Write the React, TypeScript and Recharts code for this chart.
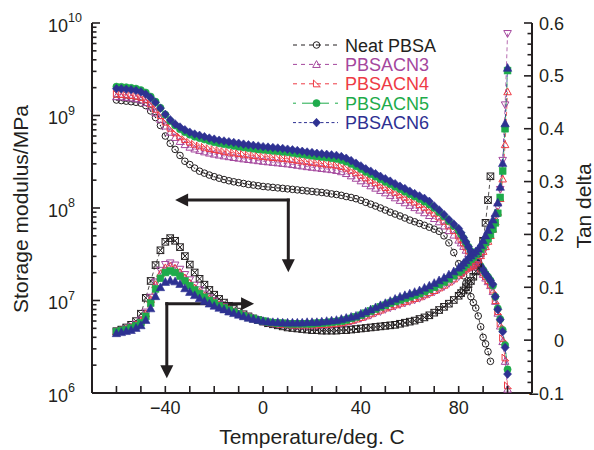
import React from "react"
import { ComposedChart, Line, XAxis, YAxis, Legend, ReferenceLine, ReferenceDot } from "recharts"

const BLACK = "#231f20"
const MAGENTA = "#a4479d"
const RED = "#ee3b45"
const GREEN = "#1eab4b"
const BLUE = "#2e3192"
const FONT = "'Liberation Sans', Arial, Helvetica, sans-serif"

// temperature, deg. C
const temps = [
  -60, -58, -56, -54, -52, -50, -48, -46, -44, -42,
  -40, -38, -36, -34, -32, -30, -28, -26, -24, -22,
  -20, -18, -16, -14, -12, -10, -8, -6, -4, -2,
  0, 2, 4, 6, 8, 10, 12, 14, 16, 18,
  20, 22, 24, 26, 28, 30, 32, 34, 36, 38,
  40, 42, 44, 46, 48, 50, 52, 54, 56, 58,
  60, 62, 64, 66, 68, 70, 72, 74, 76, 78,
  80, 81, 82, 83, 84, 85, 86, 87, 88, 89,
  90, 91, 92, 93, 94, 95, 96, 97, 98, 99,
  100,
]

// storage modulus
const neatModulus = [
  1.47e9, 1.45e9, 1.43e9, 1.41e9, 1.39e9, 1.36e9, 1.28e9, 1.12e9, 9.5e8, 7.8e8,
  6.0e8, 5.0e8, 4.3e8, 3.7e8, 3.2e8, 2.95e8, 2.7e8, 2.5e8, 2.38e8, 2.27e8,
  2.18e8, 2.1e8, 2.03e8, 1.97e8, 1.92e8, 1.88e8, 1.84e8, 1.8e8, 1.77e8, 1.74e8,
  1.71e8, 1.69e8, 1.67e8, 1.65e8, 1.63e8, 1.61e8, 1.59e8, 1.57e8, 1.55e8, 1.53e8,
  1.51e8, 1.49e8, 1.47e8, 1.45e8, 1.42e8, 1.4e8, 1.37e8, 1.33e8, 1.3e8, 1.26e8,
  1.21e8, 1.15e8, 1.1e8, 1.05e8, 1.0e8, 9.5e7, 9.0e7, 8.6e7, 8.2e7, 7.8e7,
  7.4e7, 7.1e7, 6.8e7, 6.5e7, 6.2e7, 5.9e7, 5.6e7, 5.0e7, 4.2e7, 3.3e7,
  2.5e7, 2.15e7, 1.85e7, 1.55e7, 1.3e7, 1.1e7, 9.5e6, 8.3e6, 6.8e6, 5.2e6,
  4.0e6, 3.4e6, 2.8e6, 2.2e6, null, null, null, null, null, null,
  null,
]
const cn3Modulus = [
  1.6e9, 1.59e9, 1.57e9, 1.55e9, 1.52e9, 1.47e9, 1.38e9, 1.24e9, 1.07e9, 9.1e8,
  7.7e8, 6.6e8, 5.8e8, 5.25e8, 4.85e8, 4.55e8, 4.35e8, 4.2e8, 4.05e8, 3.93e8,
  3.83e8, 3.74e8, 3.66e8, 3.59e8, 3.52e8, 3.46e8, 3.4e8, 3.35e8, 3.3e8, 3.25e8,
  3.2e8, 3.16e8, 3.12e8, 3.08e8, 3.04e8, 3.0e8, 2.95e8, 2.9e8, 2.85e8, 2.8e8,
  2.76e8, 2.72e8, 2.68e8, 2.64e8, 2.6e8, 2.55e8, 2.47e8, 2.36e8, 2.23e8, 2.1e8,
  1.97e8, 1.85e8, 1.74e8, 1.64e8, 1.55e8, 1.46e8, 1.37e8, 1.29e8, 1.21e8, 1.14e8,
  1.07e8, 1.01e8, 9.5e7, 8.9e7, 8.3e7, 7.7e7, 7.1e7, 6.4e7, 5.7e7, 5.1e7,
  4.5e7, 4.2e7, 3.85e7, 3.5e7, 3.2e7, 2.95e7, 2.7e7, 2.5e7, 2.3e7, 2.1e7,
  1.92e7, 1.75e7, 1.6e7, 1.45e7, 1.25e7, 9.8e6, 7.3e6, 5.3e6, 3.6e6, 2.2e6,
  1.1e6,
]
const cn4Modulus = [
  1.7e9, 1.69e9, 1.67e9, 1.65e9, 1.62e9, 1.57e9, 1.48e9, 1.34e9, 1.17e9, 1.0e9,
  8.5e8, 7.3e8, 6.5e8, 5.9e8, 5.5e8, 5.15e8, 4.9e8, 4.7e8, 4.55e8, 4.4e8,
  4.3e8, 4.2e8, 4.1e8, 4.02e8, 3.95e8, 3.88e8, 3.82e8, 3.76e8, 3.7e8, 3.65e8,
  3.6e8, 3.56e8, 3.52e8, 3.48e8, 3.44e8, 3.4e8, 3.34e8, 3.28e8, 3.22e8, 3.17e8,
  3.12e8, 3.07e8, 3.02e8, 2.98e8, 2.94e8, 2.9e8, 2.82e8, 2.7e8, 2.56e8, 2.41e8,
  2.26e8, 2.12e8, 2.0e8, 1.88e8, 1.77e8, 1.67e8, 1.57e8, 1.48e8, 1.39e8, 1.31e8,
  1.23e8, 1.16e8, 1.09e8, 1.02e8, 9.5e7, 8.8e7, 8.0e7, 7.2e7, 6.4e7, 5.7e7,
  5.0e7, 4.6e7, 4.2e7, 3.8e7, 3.45e7, 3.15e7, 2.9e7, 2.65e7, 2.4e7, 2.2e7,
  2.0e7, 1.82e7, 1.65e7, 1.5e7, 1.3e7, 1.0e7, 7.6e6, 5.6e6, 3.9e6, 2.4e6,
  1.2e6,
]
const cn5Modulus = [
  2.05e9, 2.04e9, 2.02e9, 1.99e9, 1.95e9, 1.88e9, 1.77e9, 1.6e9, 1.41e9, 1.21e9,
  1.02e9, 8.7e8, 7.8e8, 7.1e8, 6.6e8, 6.2e8, 5.9e8, 5.7e8, 5.5e8, 5.3e8,
  5.15e8, 5.0e8, 4.9e8, 4.8e8, 4.7e8, 4.6e8, 4.52e8, 4.45e8, 4.38e8, 4.3e8,
  4.25e8, 4.2e8, 4.15e8, 4.1e8, 4.05e8, 4.0e8, 3.93e8, 3.86e8, 3.8e8, 3.73e8,
  3.67e8, 3.61e8, 3.56e8, 3.51e8, 3.46e8, 3.4e8, 3.3e8, 3.17e8, 3.0e8, 2.82e8,
  2.64e8, 2.46e8, 2.32e8, 2.18e8, 2.05e8, 1.92e8, 1.81e8, 1.7e8, 1.6e8, 1.5e8,
  1.41e8, 1.33e8, 1.25e8, 1.17e8, 1.09e8, 1.0e8, 9.0e7, 8.1e7, 7.2e7, 6.4e7,
  5.7e7, 5.2e7, 4.7e7, 4.2e7, 3.8e7, 3.4e7, 3.1e7, 2.85e7, 2.6e7, 2.35e7,
  2.15e7, 1.95e7, 1.8e7, 1.65e7, 1.45e7, 1.1e7, 8.2e6, 6.3e6, 4.8e6, 3.3e6,
  1.8e6,
]
const cn6Modulus = [
  1.95e9, 1.94e9, 1.92e9, 1.9e9, 1.86e9, 1.8e9, 1.7e9, 1.55e9, 1.38e9, 1.2e9,
  1.03e9, 9.0e8, 8.1e8, 7.5e8, 7.0e8, 6.6e8, 6.3e8, 6.1e8, 5.9e8, 5.7e8,
  5.55e8, 5.4e8, 5.3e8, 5.2e8, 5.1e8, 5.0e8, 4.9e8, 4.82e8, 4.75e8, 4.68e8,
  4.6e8, 4.55e8, 4.5e8, 4.45e8, 4.4e8, 4.32e8, 4.25e8, 4.18e8, 4.1e8, 4.03e8,
  3.97e8, 3.9e8, 3.85e8, 3.8e8, 3.75e8, 3.7e8, 3.6e8, 3.45e8, 3.25e8, 3.05e8,
  2.85e8, 2.65e8, 2.5e8, 2.35e8, 2.2e8, 2.07e8, 1.95e8, 1.83e8, 1.72e8, 1.62e8,
  1.52e8, 1.43e8, 1.35e8, 1.27e8, 1.18e8, 1.05e8, 9.5e7, 8.5e7, 7.5e7, 6.7e7,
  6.0e7, 5.4e7, 4.8e7, 4.3e7, 3.8e7, 3.4e7, 3.1e7, 2.85e7, 2.6e7, 2.35e7,
  2.15e7, 1.95e7, 1.8e7, 1.65e7, 1.5e7, 1.1e7, 8.0e6, 6.2e6, 4.6e6, 3.1e6,
  1.6e6,
]

// tan delta
const neatTan = [
  0.017, 0.02, 0.024, 0.029, 0.036, 0.05, 0.08, 0.112, 0.142, 0.17,
  0.186, 0.193, 0.188, 0.176, 0.159, 0.143, 0.128, 0.116, 0.105, 0.095,
  0.086, 0.078, 0.071, 0.065, 0.059, 0.054, 0.049, 0.045, 0.041, 0.038,
  0.035, 0.032, 0.03, 0.028, 0.026, 0.024, 0.023, 0.022, 0.021, 0.02,
  0.019, 0.019, 0.018, 0.018, 0.018, 0.018, 0.019, 0.019, 0.02, 0.021,
  0.022, 0.023, 0.024, 0.025, 0.026, 0.027, 0.028, 0.029, 0.031, 0.033,
  0.035, 0.037, 0.04, 0.043, 0.047, 0.052, 0.057, 0.063, 0.069, 0.076,
  0.084, 0.089, 0.094, 0.1, 0.106, 0.112, 0.12, 0.13, 0.145, 0.165,
  0.188, 0.222, 0.265, 0.31, null, null, null, null, null, null,
  null,
]
const cn3Tan = [
  0.016, 0.018, 0.021, 0.025, 0.03, 0.038, 0.053, 0.081, 0.11, 0.132,
  0.143, 0.146, 0.142, 0.134, 0.124, 0.114, 0.104, 0.095, 0.087, 0.08,
  0.074, 0.068, 0.063, 0.058, 0.054, 0.05, 0.047, 0.044, 0.041, 0.038,
  0.035, 0.033, 0.031, 0.03, 0.029, 0.028, 0.028, 0.027, 0.027, 0.027,
  0.027, 0.027, 0.028, 0.028, 0.029, 0.03, 0.031, 0.033, 0.035, 0.038,
  0.041, 0.044, 0.047, 0.051, 0.054, 0.058, 0.061, 0.064, 0.067, 0.07,
  0.073, 0.076, 0.079, 0.083, 0.087, 0.091, 0.096, 0.101, 0.107, 0.113,
  0.12, 0.124, 0.128, 0.132, 0.135, 0.137, 0.139, 0.143, 0.149, 0.157,
  0.166, 0.176, 0.187, 0.199, 0.213, 0.23, 0.252, 0.285, 0.34, 0.445,
  0.58,
]
const cn4Tan = [
  0.016, 0.018, 0.021, 0.024, 0.029, 0.036, 0.05, 0.077, 0.105, 0.126,
  0.137, 0.14, 0.136, 0.128, 0.118, 0.108, 0.099, 0.091, 0.084, 0.078,
  0.072, 0.067, 0.062, 0.058, 0.054, 0.05, 0.047, 0.044, 0.041, 0.038,
  0.036, 0.034, 0.032, 0.031, 0.03, 0.03, 0.029, 0.029, 0.029, 0.029,
  0.029, 0.029, 0.03, 0.03, 0.031, 0.032, 0.033, 0.035, 0.037, 0.04,
  0.043, 0.046, 0.05, 0.054, 0.057, 0.061, 0.064, 0.067, 0.07, 0.073,
  0.076, 0.079, 0.082, 0.086, 0.09, 0.094, 0.099, 0.104, 0.11, 0.116,
  0.123, 0.127, 0.131, 0.135, 0.138, 0.14, 0.142, 0.146, 0.152, 0.16,
  0.168, 0.177, 0.187, 0.198, 0.21, 0.224, 0.242, 0.268, 0.305, 0.37,
  0.47,
]
const cn5Tan = [
  0.016, 0.018, 0.02, 0.023, 0.027, 0.033, 0.045, 0.07, 0.097, 0.117,
  0.128, 0.131, 0.128, 0.121, 0.112, 0.103, 0.095, 0.088, 0.081, 0.075,
  0.07, 0.065, 0.061, 0.057, 0.053, 0.05, 0.046, 0.043, 0.041, 0.038,
  0.036, 0.034, 0.033, 0.032, 0.032, 0.031, 0.031, 0.031, 0.031, 0.031,
  0.031, 0.032, 0.032, 0.033, 0.034, 0.035, 0.036, 0.038, 0.041, 0.044,
  0.047, 0.051, 0.055, 0.059, 0.063, 0.066, 0.07, 0.073, 0.076, 0.079,
  0.082, 0.085, 0.088, 0.092, 0.096, 0.1, 0.105, 0.11, 0.116, 0.122,
  0.129, 0.133, 0.138, 0.143, 0.148, 0.153, 0.157, 0.162, 0.167, 0.172,
  0.178, 0.185, 0.192, 0.2, 0.21, 0.222, 0.24, 0.27, 0.32, 0.4,
  0.51,
]
const cn6Tan = [
  0.013, 0.015, 0.017, 0.019, 0.023, 0.028, 0.038, 0.06, 0.083, 0.1,
  0.11, 0.113, 0.111, 0.106, 0.098, 0.091, 0.085, 0.079, 0.074, 0.069,
  0.065, 0.061, 0.058, 0.054, 0.051, 0.048, 0.045, 0.042, 0.04, 0.038,
  0.036, 0.035, 0.034, 0.034, 0.033, 0.033, 0.033, 0.033, 0.033, 0.034,
  0.034, 0.034, 0.035, 0.036, 0.037, 0.038, 0.04, 0.042, 0.044, 0.046,
  0.05, 0.054, 0.058, 0.062, 0.066, 0.07, 0.074, 0.078, 0.082, 0.085,
  0.088, 0.091, 0.094, 0.099, 0.103, 0.108, 0.113, 0.118, 0.124, 0.13,
  0.137, 0.141, 0.146, 0.151, 0.156, 0.16, 0.164, 0.168, 0.173, 0.18,
  0.189, 0.198, 0.208, 0.218, 0.228, 0.24, 0.26, 0.29, 0.335, 0.41,
  0.515,
]

// axis ticks
const xTicks = [-70, -60, -50, -40, -30, -20, -10, 0, 10, 20, 30, 40, 50, 60, 70, 80, 90, 100, 110]
const xLabels = [-40, 0, 40, 80]
const modulusTicks = [
  1e6, 2e6, 3e6, 4e6, 5e6, 6e6, 7e6, 8e6, 9e6,
  1e7, 2e7, 3e7, 4e7, 5e7, 6e7, 7e7, 8e7, 9e7,
  1e8, 2e8, 3e8, 4e8, 5e8, 6e8, 7e8, 8e8, 9e8,
  1e9, 2e9, 3e9, 4e9, 5e9, 6e9, 7e9, 8e9, 9e9,
  1e10,
]
const tanTicks = [
  -0.1, -0.08, -0.06, -0.04, -0.02, 0, 0.02, 0.04, 0.06, 0.08,
  0.1, 0.12, 0.14, 0.16, 0.18, 0.2, 0.22, 0.24, 0.26, 0.28,
  0.3, 0.32, 0.34, 0.36, 0.38, 0.4, 0.42, 0.44, 0.46, 0.48,
  0.5, 0.52, 0.54, 0.56, 0.58, 0.6,
]

const data = temps.map((t, i) => ({
  t,
  e0: neatModulus[i], e3: cn3Modulus[i], e4: cn4Modulus[i], e5: cn5Modulus[i], e6: cn6Modulus[i],
  d0: neatTan[i], d3: cn3Tan[i], d4: cn4Tan[i], d5: cn5Tan[i], d6: cn6Tan[i],
}))

type Shape = "circleDot" | "triUp" | "triRight" | "circle" | "diamond" | "squareX" | "triDown" | "square" | "triUpFill"

function marker(shape: Shape, cx: number, cy: number, color: string) {
  const s = 3.8
  const open = { fill: "none", stroke: color, strokeWidth: 1 }
  const full = { fill: color, stroke: color, strokeWidth: 0.6 }
  switch (shape) {
    case "circleDot":
      return (
        <g>
          <circle cx={cx} cy={cy} r={3.3} {...open} />
          <circle cx={cx} cy={cy} r={0.7} fill={color} />
        </g>
      )
    case "triUp":
      return <path d={`M${cx},${cy - s} L${cx + s},${cy + s * 0.8} L${cx - s},${cy + s * 0.8}Z`} {...open} />
    case "triRight":
      return <path d={`M${cx - s * 0.8},${cy - s} L${cx - s * 0.8},${cy + s * 0.8} L${cx + s},${cy + s * 0.8}Z`} {...open} />
    case "circle":
      return <circle cx={cx} cy={cy} r={3.6} {...full} />
    case "diamond":
      return <path d={`M${cx},${cy - 4.3} L${cx + 4},${cy} L${cx},${cy + 4.3} L${cx - 4},${cy}Z`} {...full} />
    case "squareX":
      return (
        <g>
          <rect x={cx - 3.3} y={cy - 3.3} width={6.6} height={6.6} {...open} />
          <path d={`M${cx - 3.3},${cy - 3.3} L${cx + 3.3},${cy + 3.3} M${cx + 3.3},${cy - 3.3} L${cx - 3.3},${cy + 3.3}`} {...open} />
        </g>
      )
    case "triDown":
      return <path d={`M${cx},${cy + s} L${cx + s},${cy - s * 0.8} L${cx - s},${cy - s * 0.8}Z`} {...open} />
    case "square":
      return <rect x={cx - 3.4} y={cy - 3.4} width={6.8} height={6.8} {...full} />
    case "triUpFill":
      return <path d={`M${cx},${cy - 4.4} L${cx + 4.2},${cy + 3.4} L${cx - 4.2},${cy + 3.4}Z`} {...full} />
  }
}

function dotFor(shape: Shape, color: string) {
  return (p: any) => {
    const { cx, cy, index } = p
    if (cx == null || cy == null || Number.isNaN(cy) || p.value == null) return <g key={index} />
    return <g key={index}>{marker(shape, cx, cy, color)}</g>
  }
}

const series = [
  { key: "e0", axis: "left", color: BLACK, shape: "circleDot" as Shape, dash: "4 3" },
  { key: "e3", axis: "left", color: MAGENTA, shape: "triUp" as Shape, dash: "4 3" },
  { key: "e4", axis: "left", color: RED, shape: "triRight" as Shape, dash: "4 3" },
  { key: "e5", axis: "left", color: GREEN, shape: "circle" as Shape, dash: "2 3 8 3" },
  { key: "e6", axis: "left", color: BLUE, shape: "diamond" as Shape, dash: "3 2" },
  { key: "d0", axis: "right", color: BLACK, shape: "squareX" as Shape, dash: "4 3" },
  { key: "d3", axis: "right", color: MAGENTA, shape: "triDown" as Shape, dash: "4 3" },
  { key: "d4", axis: "right", color: RED, shape: "triUp" as Shape, dash: "4 3" },
  { key: "d5", axis: "right", color: GREEN, shape: "square" as Shape, dash: "2 3 8 3" },
  { key: "d6", axis: "right", color: BLUE, shape: "triUpFill" as Shape, dash: "3 2" },
]

const legendItems = [
  { name: "Neat PBSA", color: BLACK, text: BLACK, shape: "circleDot" as Shape, dash: "4 4" },
  { name: "PBSACN3", color: MAGENTA, text: MAGENTA, shape: "triUp" as Shape, dash: "4 4" },
  { name: "PBSACN4", color: RED, text: RED, shape: "triRight" as Shape, dash: "4 4" },
  { name: "PBSACN5", color: GREEN, text: GREEN, shape: "circle" as Shape, dash: "3 6 27 6 3" },
  { name: "PBSACN6", color: BLUE, text: BLUE, shape: "diamond" as Shape, dash: "3 2.5" },
]

const minus = (v: number, s: string) => (v < 0 ? "\u2212" + s : s)

function BottomTick(props: any) {
  const { x, y, payload } = props
  const v = payload.value
  return (
    <g>
      <line x1={x} x2={x} y1={y} y2={y - 7} stroke={BLACK} strokeWidth={1.6} />
      {xLabels.includes(v) && (
        <text x={x} y={y + 21} textAnchor="middle" fontSize={18} fontFamily={FONT} fill={BLACK}>
          {minus(v, String(Math.abs(v)))}
        </text>
      )}
    </g>
  )
}

function TopTick(props: any) {
  const { x, y } = props
  return <line x1={x} x2={x} y1={y} y2={y + 7} stroke={BLACK} strokeWidth={1.6} />
}

function LogTick(props: any) {
  const { x, y, payload } = props
  const v = payload.value
  const exp = Math.round(Math.log10(v))
  const major = Math.abs(Math.log10(v) - exp) < 1e-6
  return (
    <g>
      <line x1={x} x2={x + (major ? 8 : 4.5)} y1={y} y2={y} stroke={BLACK} strokeWidth={1.6} />
      {major && (
        <g fontFamily={FONT} fill={BLACK}>
          <text x={x - 24} y={y + 8.5} textAnchor="end" fontSize={18}>10</text>
          <text x={x - 24} y={y - 1} textAnchor="start" fontSize={12.5}>{exp}</text>
        </g>
      )}
    </g>
  )
}

function TanTick(props: any) {
  const { x, y, payload } = props
  const v = payload.value
  const major = Math.abs(v * 10 - Math.round(v * 10)) < 1e-6
  const label = v === 0 ? "0" : minus(v, Math.abs(v).toFixed(1))
  return (
    <g>
      <line x1={x} x2={x - (major ? 8 : 4.5)} y1={y} y2={y} stroke={BLACK} strokeWidth={1.6} />
      {major && (
        <text x={x + 32} y={y + 6.5} textAnchor="end" fontSize={18} fontFamily={FONT} fill={BLACK}>
          {label}
        </text>
      )}
    </g>
  )
}

function LegendBox() {
  return (
    <svg width={170} height={100} style={{ display: "block" }}>
      {legendItems.map((it, i) => {
        const cy = 10 + i * 19.4
        return (
          <g key={it.name}>
            <line x1={3} x2={48} y1={cy} y2={cy} stroke={it.color} strokeWidth={1} strokeDasharray={it.dash} />
            {marker(it.shape, 26.5, cy, it.color)}
            <text x={55} y={cy + 6.5} fontSize={18} fontFamily={FONT} fill={it.text}>{it.name}</text>
          </g>
        )
      })}
    </svg>
  )
}

const arrowHead = (dir: "left" | "right" | "down") => (p: any) => {
  const { cx, cy } = p
  const L = 13
  const W = 6.5
  let d = ""
  if (dir === "left") d = `M${cx},${cy} L${cx + L},${cy - W} L${cx + L},${cy + W}Z`
  if (dir === "right") d = `M${cx},${cy} L${cx - L},${cy - W} L${cx - L},${cy + W}Z`
  if (dir === "down") d = `M${cx},${cy} L${cx - W},${cy - L} L${cx + W},${cy - L}Z`
  return <path d={d} fill={BLACK} />
}

const arrowLine = { stroke: BLACK, strokeWidth: 3, strokeLinecap: "square" as const }

export default function App() {
  return (
    <div style={{ position: "absolute", left: 0, top: 0, background: "#fff" }}>
      <ComposedChart width={594} height={450} data={data} margin={{ top: 23, right: 0, bottom: 0, left: 0 }}>
        <XAxis
          dataKey="t"
          type="number"
          domain={[-70, 110]}
          ticks={xTicks}
          interval={0}
          allowDataOverflow
          height={57}
          tickSize={0}
          tickMargin={0}
          tickLine={false}
          tick={<BottomTick />}
          axisLine={{ stroke: BLACK, strokeWidth: 2 }}
          label={{
            content: () => (
              <text x={312} y={444} textAnchor="middle" fontSize={21} fontFamily={FONT} fill={BLACK}>
                Temperature/deg. C
              </text>
            ),
          }}
        />
        <XAxis
          xAxisId="top"
          orientation="top"
          type="number"
          domain={[-70, 110]}
          ticks={xTicks}
          interval={0}
          allowDataOverflow
          height={0}
          tickSize={0}
          tickMargin={0}
          tickLine={false}
          tick={<TopTick />}
          axisLine={{ stroke: BLACK, strokeWidth: 2 }}
        />
        <YAxis
          yAxisId="left"
          scale="log"
          type="number"
          domain={[1e6, 1e10]}
          ticks={modulusTicks}
          interval={0}
          allowDataOverflow
          width={92}
          tickSize={0}
          tickMargin={0}
          tickLine={false}
          tick={<LogTick />}
          axisLine={{ stroke: BLACK, strokeWidth: 2 }}
          label={{
            content: () => (
              <text transform="translate(28,209) rotate(-90)" textAnchor="middle" fontSize={21} fontFamily={FONT} fill={BLACK}>
                Storage modulus/MPa
              </text>
            ),
          }}
        />
        <YAxis
          yAxisId="right"
          orientation="right"
          type="number"
          domain={[-0.1, 0.6]}
          ticks={tanTicks}
          interval={0}
          allowDataOverflow
          width={62}
          tickSize={0}
          tickMargin={0}
          tickLine={false}
          tick={<TanTick />}
          axisLine={{ stroke: BLACK, strokeWidth: 2 }}
          label={{
            content: () => (
              <text transform="translate(591,206) rotate(-90)" textAnchor="middle" fontSize={21} fontFamily={FONT} fill={BLACK}>
                Tan delta
              </text>
            ),
          }}
        />
        <Legend
          layout="vertical"
          align="center"
          verticalAlign="middle"
          content={() => <LegendBox />}
          wrapperStyle={{ left: 290, top: 35, width: 170, height: 100 }}
        />

        {series.map((s) => (
          <Line
            key={s.key}
            dataKey={s.key}
            yAxisId={s.axis}
            type="linear"
            stroke={s.color}
            strokeWidth={0.8}
            strokeDasharray={s.dash}
            dot={dotFor(s.shape, s.color)}
            activeDot={false}
            isAnimationActive={false}
            connectNulls={false}
          />
        ))}

        {/* arrow pointing to the storage modulus axis */}
        <ReferenceLine yAxisId="right" segment={[{ x: -30.7, y: 0.265 }, { x: 10.3, y: 0.265 }]} ifOverflow="visible" {...arrowLine} />
        <ReferenceLine yAxisId="right" segment={[{ x: 10.3, y: 0.265 }, { x: 10.3, y: 0.153 }]} ifOverflow="visible" {...arrowLine} />
        <ReferenceDot yAxisId="right" x={-36} y={0.265} r={1} ifOverflow="visible" shape={arrowHead("left")} />
        <ReferenceDot yAxisId="right" x={10.3} y={0.1285} r={1} ifOverflow="visible" shape={arrowHead("down")} />

        {/* arrow pointing to the tan delta axis */}
        <ReferenceLine yAxisId="right" segment={[{ x: -39.4, y: 0.069 }, { x: -9.0, y: 0.069 }]} ifOverflow="visible" {...arrowLine} />
        <ReferenceLine yAxisId="right" segment={[{ x: -39.4, y: 0.069 }, { x: -39.4, y: -0.047 }]} ifOverflow="visible" {...arrowLine} />
        <ReferenceDot yAxisId="right" x={-3.7} y={0.069} r={1} ifOverflow="visible" shape={arrowHead("right")} />
        <ReferenceDot yAxisId="right" x={-39.4} y={-0.072} r={1} ifOverflow="visible" shape={arrowHead("down")} />
      </ComposedChart>
    </div>
  )
}
